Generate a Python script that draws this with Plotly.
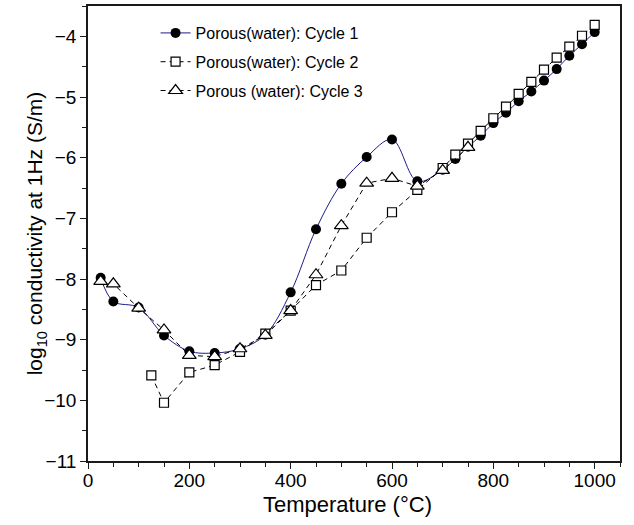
import plotly.graph_objects as go

# ---- data ----
temp_c1 = [25, 50, 100, 150, 200, 250, 300, 350, 400, 450, 500, 550, 600, 650, 700,
           725, 750, 775, 800, 825, 850, 875, 900, 925, 950, 975, 1000]
cond_c1 = [-7.98, -8.37, -8.47, -8.93, -9.19, -9.22, -9.15, -8.92, -8.22, -7.18, -6.43,
           -5.99, -5.70, -6.39, -6.20, -6.02, -5.82, -5.64, -5.43, -5.26, -5.07, -4.91,
           -4.73, -4.54, -4.32, -4.13, -3.93]

temp_c2 = [125, 150, 200, 250, 300, 350, 400, 450, 500, 550, 600, 650, 700, 725, 750,
           775, 800, 825, 850, 875, 900, 925, 950, 975, 1000]
cond_c2 = [-9.59, -10.04, -9.54, -9.42, -9.20, -8.90, -8.52, -8.10, -7.86, -7.32, -6.90,
           -6.53, -6.17, -5.95, -5.77, -5.56, -5.35, -5.16, -4.95, -4.75, -4.55, -4.35,
           -4.17, -3.99, -3.81]

temp_c3 = [25, 50, 100, 150, 200, 250, 300, 350, 400, 450, 500, 550, 600, 650, 700, 750]
cond_c3 = [-8.04, -8.08, -8.48, -8.84, -9.26, -9.28, -9.15, -8.93, -8.52, -7.93, -7.12,
           -6.42, -6.34, -6.47, -6.21, -5.83]

names = ["Porous(water): Cycle 1", "Porous(water): Cycle 2", "Porous (water): Cycle 3"]
x_title = "Temperature (°C)"
y_title = "log<sub>10</sub> conductivity at 1Hz (S/m)"

FONT = "Liberation Sans, Arial"

fig = go.Figure()
fig.add_trace(go.Scatter(
    x=temp_c1, y=cond_c1, name=names[0], mode="lines+markers", legendgroup="a",
    line=dict(color="#1c1c8c", width=1, shape="spline", smoothing=1.0),
    marker=dict(symbol="circle", size=10, color="black", line=dict(width=0)),
))
fig.add_trace(go.Scatter(
    x=temp_c2, y=cond_c2, name=names[1], mode="lines+markers", legendgroup="b",
    line=dict(color="black", width=1, dash="5px,4px"),
    marker=dict(symbol="square", size=9, color="white", line=dict(color="black", width=1.2)),
))
fig.add_trace(go.Scatter(
    x=temp_c3, y=cond_c3, name=names[2], mode="lines+markers", legendgroup="c",
    line=dict(color="black", width=1, dash="5px,4px"),
    marker=dict(symbol="triangle-up", size=12, color="white", line=dict(color="black", width=1.2)),
))

axis_common = dict(
    showline=True, linecolor="#1a1a1a", linewidth=1.5, mirror=True,
    ticks="outside", ticklen=6, tickwidth=1.2, tickcolor="#1a1a1a",
    showgrid=False, zeroline=False,
    tickfont=dict(family=FONT, size=19, color="black"),
)

fig.update_xaxes(
    range=[0, 1050], tickmode="linear", tick0=0, dtick=200,
    minor=dict(ticks="outside", ticklen=4, dtick=50, tickcolor="#1a1a1a", tickwidth=1),
    ticklabelstandoff=-5,
    **axis_common,
)
fig.update_yaxes(
    range=[-11, -3.5], tickmode="linear", tick0=-11, dtick=1,
    minor=dict(ticks="outside", ticklen=4, dtick=0.5, tickcolor="#1a1a1a", tickwidth=1),
    **axis_common,
)

fig.add_annotation(text=x_title, xref="paper", yref="paper", x=0.488, y=-0.096,
                   xanchor="center", yanchor="middle", showarrow=False,
                   font=dict(family=FONT, size=22, color="black"))
fig.add_annotation(text=y_title, xref="paper", yref="paper", x=-0.098, y=0.5,
                   xanchor="center", yanchor="middle", showarrow=False, textangle=-90,
                   font=dict(family=FONT, size=21, color="black"))

fig.update_layout(
    width=634, height=525,
    margin=dict(l=88, r=14, t=6, b=64, autoexpand=False),
    plot_bgcolor="white", paper_bgcolor="white",
    showlegend=True,
    legend=dict(x=0.127, y=0.978, xanchor="left", yanchor="top",
                bgcolor="rgba(0,0,0,0)", borderwidth=0,
                font=dict(family=FONT, size=16, color="black"),
                tracegroupgap=5),
)

fig.write_html("out.html", config={"displayModeBar": False},
               post_script="document.body.style.margin='0';")
